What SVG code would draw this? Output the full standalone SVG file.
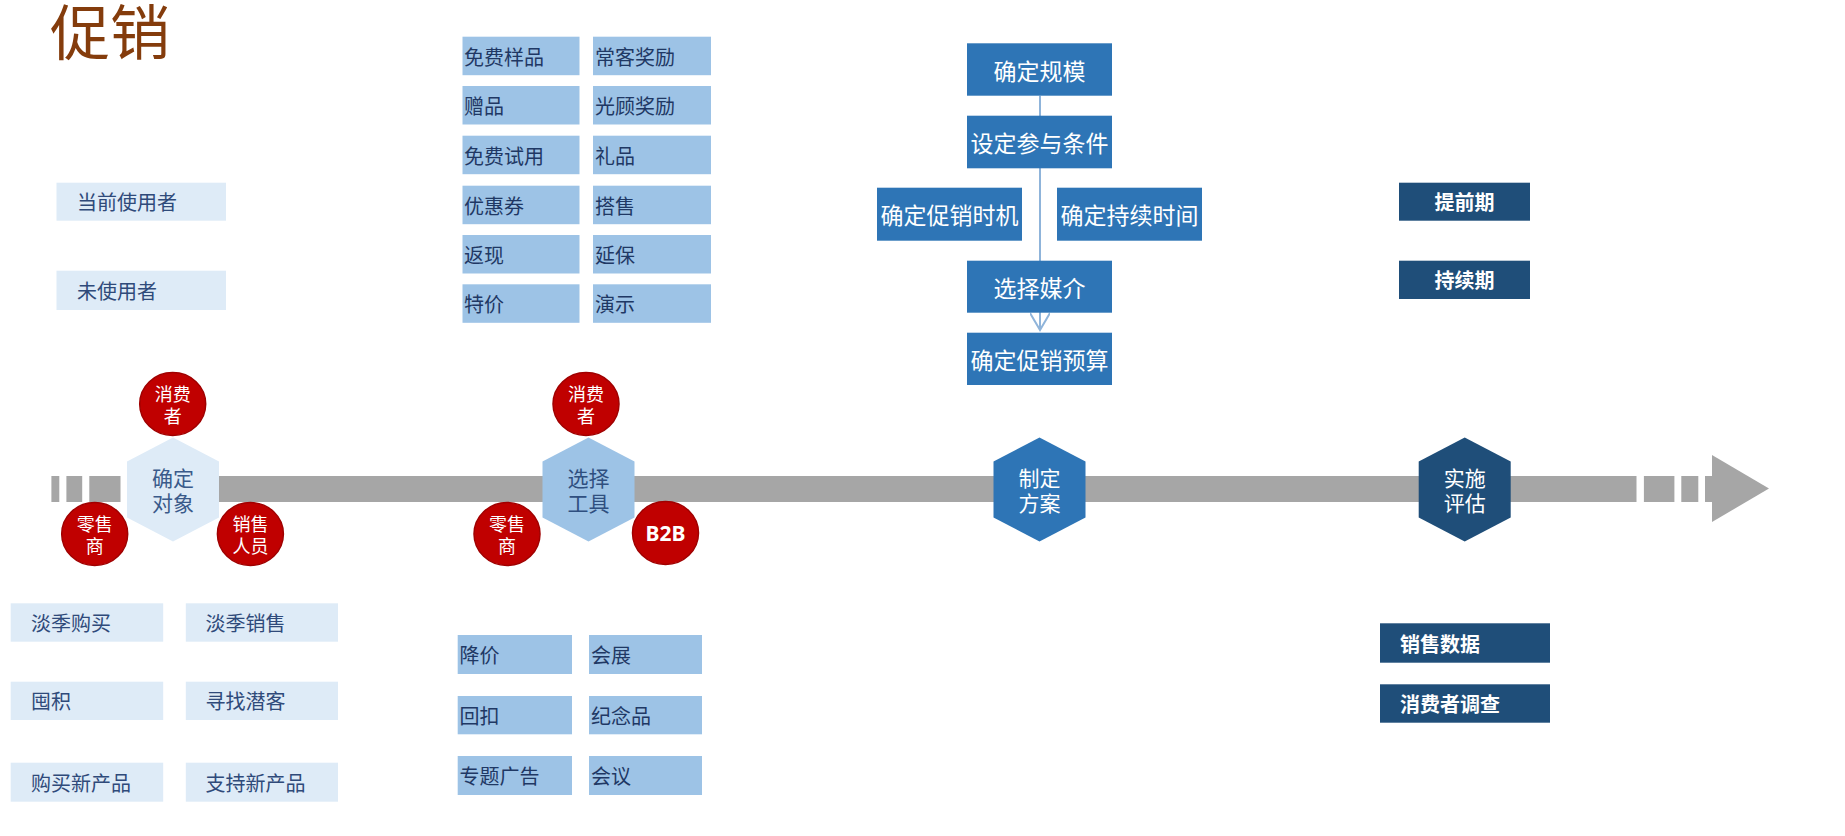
<svg xmlns="http://www.w3.org/2000/svg" width="1845" height="836" viewBox="0 0 1845 836">
<defs>
<style>
text{font-family:"Noto Sans CJK SC","Noto Sans",sans-serif;}
.title{font-size:60px;fill:#843C0C;}
.lb{fill:#DEEBF7;}
.tb{fill:#9DC3E6;}
.mb{fill:#2E75B6;}
.db{fill:#1F4E79;}
.bar{fill:#A6A6A6;}
.red{fill:#C00000;stroke:#A00000;stroke-width:1.5;}
.tl{font-size:20px;fill:#2F4A7A;dominant-baseline:central;}
.tt{font-size:20px;fill:#1F3864;dominant-baseline:central;}
.tm{font-size:23px;fill:#FFFFFF;dominant-baseline:central;text-anchor:middle;}
.td{font-size:20px;fill:#FFFFFF;dominant-baseline:central;font-weight:bold;}
.tc{font-size:18px;fill:#FFFFFF;dominant-baseline:central;text-anchor:middle;}
.th{font-size:21px;dominant-baseline:central;text-anchor:middle;}
.conn{stroke:#8FB4DA;stroke-width:2;fill:none;}
</style>
<marker id="openArrow" markerUnits="userSpaceOnUse" markerWidth="24" markerHeight="20" refX="18" refY="10" orient="auto" viewBox="0 0 24 20">
<path d="M1,0 L18,10 L1,20" fill="none" stroke="#8FB4DA" stroke-width="2"/>
</marker>
</defs>
<rect x="0" y="0" width="1845" height="836" fill="#FFFFFF"/>
<text class="title" x="50" y="55">促销</text>

<g id="timeline">
<rect class="bar" x="51.4" y="476" width="7.9" height="26"/>
<rect class="bar" x="66.4" y="476" width="15.8" height="26"/>
<rect class="bar" x="89.3" y="476" width="31.2" height="26"/>
<rect class="bar" x="127.5" y="476" width="1509" height="26"/>
<rect class="bar" x="1643.9" y="476" width="30.5" height="26"/>
<rect class="bar" x="1681.3" y="476" width="17" height="26"/>
<rect class="bar" x="1705" y="476" width="8" height="26"/>
<polygon class="bar" points="1712,455 1769,488.5 1712,522"/>
</g>

<g id="connectors">
<line class="conn" x1="1040" y1="95.7" x2="1040" y2="330" marker-end="url(#openArrow)"/>
</g>

<g id="left-targets">
<g id="n-current-users"><rect class="lb" x="56.5" y="182.7" width="169.5" height="38"/><text class="tl" x="77" y="201.7">当前使用者</text></g>
<g id="n-non-users"><rect class="lb" x="56.5" y="270.7" width="169.5" height="39.3"/><text class="tl" x="77" y="290.3">未使用者</text></g>
</g>

<g id="tools-top">
<g id="t1"><rect class="tb" x="462.5" y="36.7" width="117" height="38.5"/><text class="tt" x="464" y="56">免费样品</text></g>
<g id="t2"><rect class="tb" x="462.5" y="86" width="117" height="38.5"/><text class="tt" x="464" y="105.3">赠品</text></g>
<g id="t3"><rect class="tb" x="462.5" y="135.7" width="117" height="38.5"/><text class="tt" x="464" y="155">免费试用</text></g>
<g id="t4"><rect class="tb" x="462.5" y="185.7" width="117" height="38.5"/><text class="tt" x="464" y="205">优惠券</text></g>
<g id="t5"><rect class="tb" x="462.5" y="235" width="117" height="38.5"/><text class="tt" x="464" y="254.3">返现</text></g>
<g id="t6"><rect class="tb" x="462.5" y="284.3" width="117" height="38.5"/><text class="tt" x="464" y="303.6">特价</text></g>
<g id="t7"><rect class="tb" x="593" y="36.7" width="118" height="38.5"/><text class="tt" x="595" y="56">常客奖励</text></g>
<g id="t8"><rect class="tb" x="593" y="86" width="118" height="38.5"/><text class="tt" x="595" y="105.3">光顾奖励</text></g>
<g id="t9"><rect class="tb" x="593" y="135.7" width="118" height="38.5"/><text class="tt" x="595" y="155">礼品</text></g>
<g id="t10"><rect class="tb" x="593" y="185.7" width="118" height="38.5"/><text class="tt" x="595" y="205">搭售</text></g>
<g id="t11"><rect class="tb" x="593" y="235" width="118" height="38.5"/><text class="tt" x="595" y="254.3">延保</text></g>
<g id="t12"><rect class="tb" x="593" y="284.3" width="118" height="38.5"/><text class="tt" x="595" y="303.6">演示</text></g>
</g>

<g id="plan">
<g id="p-scale"><rect class="mb" x="967" y="43.3" width="145" height="52.4"/><text class="tm" x="1039.5" y="69.5">确定规模</text></g>
<g id="p-cond"><rect class="mb" x="967" y="115.7" width="145" height="52.6"/><text class="tm" x="1039.5" y="142">设定参与条件</text></g>
<g id="p-timing"><rect class="mb" x="877" y="187.7" width="145" height="53"/><text class="tm" x="949.5" y="214.2">确定促销时机</text></g>
<g id="p-duration"><rect class="mb" x="1057" y="187.7" width="145" height="53"/><text class="tm" x="1129.5" y="214.2">确定持续时间</text></g>
<g id="p-media"><rect class="mb" x="967" y="260.7" width="145" height="52"/><text class="tm" x="1039.5" y="286.7">选择媒介</text></g>
<g id="p-budget"><rect class="mb" x="967" y="332.7" width="145" height="52.3"/><text class="tm" x="1039.5" y="358.8">确定促销预算</text></g>
</g>

<g id="phases">
<g id="ph-pre"><rect class="db" x="1399" y="182.7" width="131" height="38"/><text class="td" x="1464.5" y="201.7" text-anchor="middle">提前期</text></g>
<g id="ph-dur"><rect class="db" x="1399" y="260.7" width="131" height="38.3"/><text class="td" x="1464.5" y="279.9" text-anchor="middle">持续期</text></g>
</g>

<g id="hexagons">
<g id="h1"><polygon fill="#DEEBF7" points="173,437.5 219,461.5 219,517.5 173,541.5 127,517.5 127,461.5"/><text class="th" fill="#3A5A8A" x="173" y="477">确定</text><text class="th" fill="#3A5A8A" x="173" y="502">对象</text></g>
<g id="h2"><polygon fill="#9DC3E6" points="588.5,437.5 634.5,461.5 634.5,517.5 588.5,541.5 542.5,517.5 542.5,461.5"/><text class="th" fill="#2F4F7F" x="588.5" y="477">选择</text><text class="th" fill="#2F4F7F" x="588.5" y="502">工具</text></g>
<g id="h3"><polygon fill="#2E75B6" points="1039.5,437.5 1085.5,461.5 1085.5,517.5 1039.5,541.5 993.5,517.5 993.5,461.5"/><text class="th" fill="#FFFFFF" x="1039.5" y="477">制定</text><text class="th" fill="#FFFFFF" x="1039.5" y="502">方案</text></g>
<g id="h4"><polygon fill="#1F4E79" points="1464.7,437.5 1510.7,461.5 1510.7,517.5 1464.7,541.5 1418.7,517.5 1418.7,461.5"/><text class="th" fill="#FFFFFF" x="1464.7" y="477">实施</text><text class="th" fill="#FFFFFF" x="1464.7" y="502">评估</text></g>
</g>

<g id="circles">
<g id="c1"><ellipse class="red" cx="172.7" cy="404" rx="33" ry="31.5"/><text class="tc" x="172.7" y="393">消费</text><text class="tc" x="172.7" y="415">者</text></g>
<g id="c2"><ellipse class="red" cx="94.7" cy="534" rx="33" ry="31.5"/><text class="tc" x="94.7" y="523">零售</text><text class="tc" x="94.7" y="545">商</text></g>
<g id="c3"><ellipse class="red" cx="250.4" cy="534" rx="33" ry="31.5"/><text class="tc" x="250.4" y="523">销售</text><text class="tc" x="250.4" y="545">人员</text></g>
<g id="c4"><ellipse class="red" cx="507" cy="534" rx="33" ry="31.5"/><text class="tc" x="507" y="523">零售</text><text class="tc" x="507" y="545">商</text></g>
<g id="c5"><ellipse class="red" cx="586" cy="404" rx="33" ry="31.5"/><text class="tc" x="586" y="393">消费</text><text class="tc" x="586" y="415">者</text></g>
<g id="c6"><ellipse class="red" cx="665.5" cy="533" rx="33" ry="31.5"/><text class="tc" x="665.5" y="533" style="font-family:'Noto Sans','Liberation Sans',sans-serif;font-weight:bold;font-size:21px">B2B</text></g>
</g>

<g id="bottom-targets">
<g id="b1"><rect class="lb" x="10.7" y="603.3" width="152.5" height="38.4"/><text class="tl" x="31" y="622.5">淡季购买</text></g>
<g id="b2"><rect class="lb" x="185.8" y="603.3" width="152.2" height="38.4"/><text class="tl" x="205.5" y="622.5">淡季销售</text></g>
<g id="b3"><rect class="lb" x="10.7" y="681.7" width="152.5" height="38.3"/><text class="tl" x="31" y="700.8">囤积</text></g>
<g id="b4"><rect class="lb" x="185.8" y="681.7" width="152.2" height="38.3"/><text class="tl" x="205.5" y="700.8">寻找潜客</text></g>
<g id="b5"><rect class="lb" x="10.7" y="762.7" width="152.5" height="39"/><text class="tl" x="31" y="782.2">购买新产品</text></g>
<g id="b6"><rect class="lb" x="185.8" y="762.7" width="152.2" height="39"/><text class="tl" x="205.5" y="782.2">支持新产品</text></g>
</g>

<g id="tools-bottom">
<g id="u1"><rect class="tb" x="457.7" y="635" width="114.3" height="39"/><text class="tt" x="459.5" y="654.5">降价</text></g>
<g id="u2"><rect class="tb" x="457.7" y="696" width="114.3" height="38.3"/><text class="tt" x="459.5" y="715.2">回扣</text></g>
<g id="u3"><rect class="tb" x="457.7" y="756" width="114.3" height="39"/><text class="tt" x="459.5" y="775.5">专题广告</text></g>
<g id="u4"><rect class="tb" x="589" y="635" width="113" height="39"/><text class="tt" x="591" y="654.5">会展</text></g>
<g id="u5"><rect class="tb" x="589" y="696" width="113" height="38.3"/><text class="tt" x="591" y="715.2">纪念品</text></g>
<g id="u6"><rect class="tb" x="589" y="756" width="113" height="39"/><text class="tt" x="591" y="775.5">会议</text></g>
</g>

<g id="evaluation">
<g id="e1"><rect class="db" x="1380" y="623.3" width="170" height="39.4"/><text class="td" x="1400" y="643">销售数据</text></g>
<g id="e2"><rect class="db" x="1380" y="684.3" width="170" height="38.4"/><text class="td" x="1400" y="703.5">消费者调查</text></g>
</g>
</svg>
